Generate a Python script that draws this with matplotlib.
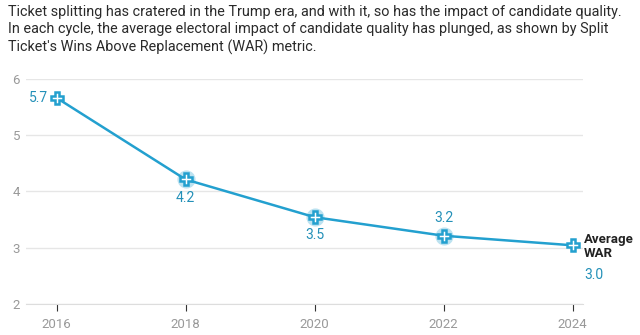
import matplotlib.pyplot as plt

plt.rcParams['font.family'] = ['Roboto', 'DejaVu Sans']

years = [2016, 2018, 2020, 2022, 2024]
war = [5.66, 4.21, 3.54, 3.21, 3.04]
labels = ["5.7", "4.2", "3.5", "3.2", "3.0"]
yticks = [2, 3, 4, 5, 6]

blue = "#23a0cf"
label_blue = "#2390b8"

fig = plt.figure(figsize=(6.4, 3.35), dpi=100)
ax = fig.add_axes([0.04, 0.093, 0.871, 0.672])

ax.plot(years, war, color=blue, lw=1.8, zorder=3)
# halo on middle points
ax.scatter(years[1:4], war[1:4], s=170, color=blue, alpha=0.3, lw=0, zorder=3)
ax.plot(years, war, ls="none", marker="P", ms=8, mfc="white", mec=blue, mew=1.8, zorder=4)

fs = 10
ax.annotate(labels[0], (years[0], war[0]), xytext=(-6, 0), textcoords="offset points",
            ha="right", va="center", color=label_blue, fontsize=fs)
ax.annotate(labels[1], (years[1], war[1]), xytext=(0, -8), textcoords="offset points",
            ha="center", va="top", color=label_blue, fontsize=fs)
ax.annotate(labels[2], (years[2], war[2]), xytext=(0, -8), textcoords="offset points",
            ha="center", va="top", color=label_blue, fontsize=fs)
ax.annotate(labels[3], (years[3], war[3]), xytext=(0, 8), textcoords="offset points",
            ha="center", va="bottom", color=label_blue, fontsize=fs)
ax.annotate("Average\nWAR", (years[4], war[4]), xytext=(8, -1), textcoords="offset points",
            ha="left", va="center", color="#222222", fontsize=9.5, fontweight="bold",
            linespacing=1.1)
ax.annotate(labels[4], (years[4], war[4]), xytext=(8, -16), textcoords="offset points",
            ha="left", va="top", color=label_blue, fontsize=fs)

ax.set_xlim(2015.52, 2024.16)
ax.set_ylim(2, 6)
ax.set_yticks(yticks)
ax.set_xticks(years)
ax.grid(axis="y", color="#e6e6e6", lw=1)
ax.set_axisbelow(True)
for s in ["top", "right", "left"]:
    ax.spines[s].set_visible(False)
ax.spines["bottom"].set_color("#dddddd")
ax.tick_params(axis="y", length=0, labelcolor="#999999", labelsize=9.5, pad=4)
ax.tick_params(axis="x", length=5, color="#333333", labelcolor="#999999", labelsize=9.5, pad=5)

fig.text(0.0125, 0.985,
         "Ticket splitting has cratered in the Trump era, and with it, so has the impact of candidate quality.\n"
         "In each cycle, the average electoral impact of candidate quality has plunged, as shown by Split\n"
         "Ticket's Wins Above Replacement (WAR) metric.",
         ha="left", va="top", fontsize=10.35, color="#2a2a2a", linespacing=1.27)

fig.savefig("out.png", dpi=100)
